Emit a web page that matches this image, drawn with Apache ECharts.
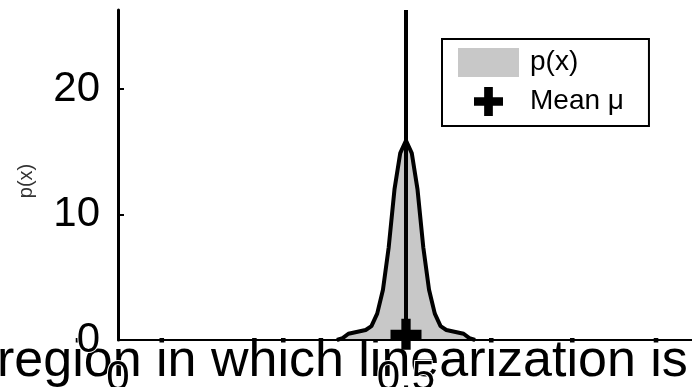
<!DOCTYPE html>
<html><head><meta charset="utf-8">
<script src="https://cdn.jsdelivr.net/npm/echarts@6/dist/echarts.min.js"></script>
<style>html,body{margin:0;padding:0;background:#fff;overflow:hidden}#c{width:692px;height:387px}</style>
</head><body><div id="c"></div>
<script>
// ---- data ----
const xValues = [0.38, 0.39, 0.40, 0.41, 0.42, 0.43, 0.44, 0.45, 0.46, 0.47, 0.48, 0.49, 0.50,
                 0.51, 0.52, 0.53, 0.54, 0.55, 0.56, 0.57, 0.58, 0.59, 0.60, 0.61, 0.62];
const pValues = [0.0, 0.15, 0.5, 0.6, 0.7, 0.8, 1.1, 2.1, 4.0, 7.4, 12.0, 14.9, 15.9,
                 14.9, 12.0, 7.4, 4.0, 2.1, 1.1, 0.8, 0.7, 0.6, 0.5, 0.15, 0.0];
const meanPoint = [0.5, 0.45];
const meanLine = [[0.5, 0], [0.5, 26.3]];
const seriesNames = ['p(x)', 'Mean μ'];
const yAxisName = 'p(x)';
const overlayText = 'region in which linearization is accurate';

const plusPath = 'path://M3.5,0H6.5V3.5H10V6.5H6.5V10H3.5V6.5H0V3.5H3.5Z';
const font = '"Liberation Sans", Arial, sans-serif';

const chart = echarts.init(document.getElementById('c'), null, {renderer: 'canvas'});
chart.setOption({
  animation: false,
  backgroundColor: '#fff',
  grid: {left: 118, top: 10, width: 576, bottom: 47, containLabel: false, outerBoundsMode: 'none'},
  xAxis: {
    type: 'value', min: 0, max: 1, interval: 0.5, z: 10,
    axisLine: {show: true, lineStyle: {color: '#000', width: 2}},
    axisTick: {show: false},
    splitLine: {show: false},
    axisLabel: {
      fontFamily: font, fontSize: 42, color: '#000', margin: 17,
      textBorderColor: '#fff', textBorderWidth: 2,
      showMaxLabel: false,
      formatter: v => String(v)
    }
  },
  yAxis: {
    type: 'value', min: 0, max: 26.3, interval: 10, z: 10,
    name: yAxisName, nameLocation: 'middle', nameRotate: 90, nameGap: 82,
    nameTextStyle: {fontFamily: font, fontSize: 20, color: '#333', padding: [0, 12, 0, 0]},
    axisLine: {show: true, lineStyle: {color: '#000', width: 3}},
    axisTick: {show: true, inside: true, length: 6, lineStyle: {color: '#000', width: 2}},
    splitLine: {show: false},
    axisLabel: {
      fontFamily: font, fontSize: 42, color: '#000', margin: 18,
      textBorderColor: '#fff', textBorderWidth: 2,
      showMaxLabel: false
    }
  },
  legend: {
    orient: 'vertical', left: 442, top: 39,
    padding: [9, 25, 10, 16],
    borderColor: '#000', borderWidth: 2, backgroundColor: '#fff',
    itemWidth: 61, itemHeight: 29, itemGap: 10,
    selectedMode: false,
    textStyle: {fontFamily: font, fontSize: 28, color: '#000', padding: [0, 0, 0, 6]},
    data: [
      {name: seriesNames[0], icon: 'rect', itemStyle: {color: '#c8c8c8', borderWidth: 0, opacity: 1}},
      {name: seriesNames[1], icon: plusPath, itemStyle: {color: '#000', borderWidth: 0, opacity: 1}}
    ]
  },
  graphic: [{
    type: 'text', x: -3, y: 362, z: 1,
    style: {text: overlayText, font: '52px ' + font, fill: '#000', verticalAlign: 'middle'}
  }],
  series: [
    {
      name: seriesNames[0], type: 'line', z: 2,
      data: xValues.map((x, i) => [x, pValues[i]]),
      symbol: 'none', smooth: false,
      color: '#000',
      lineStyle: {color: '#000', width: 4},
      areaStyle: {color: '#c8c8c8', opacity: 1}
    },
    {
      name: 'meanline', type: 'line', z: 3,
      data: meanLine, symbol: 'none',
      lineStyle: {color: '#000', width: 4}
    },
    {
      name: seriesNames[1], type: 'scatter', z: 4,
      data: [meanPoint], symbol: plusPath, symbolSize: 31,
      itemStyle: {color: '#000', opacity: 1}
    }
  ]
});
</script>
</body></html>
